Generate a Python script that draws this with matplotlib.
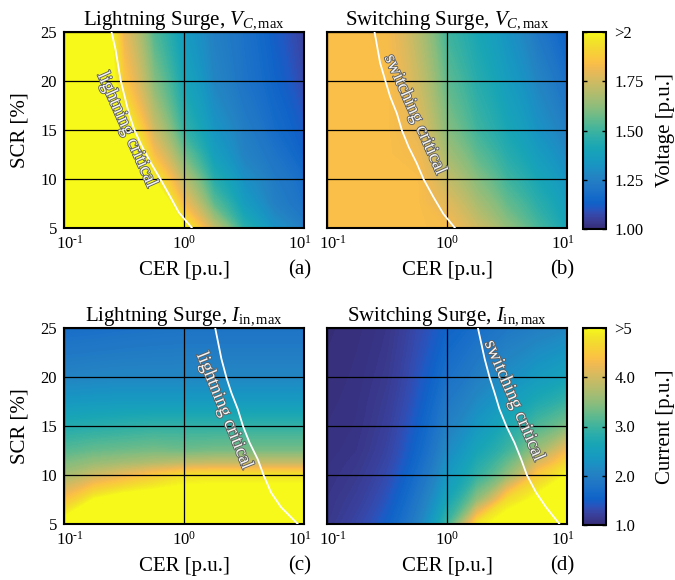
import numpy as np
import matplotlib
matplotlib.use("Agg")
import matplotlib.pyplot as plt
from matplotlib.colors import LinearSegmentedColormap, Normalize
from matplotlib.cm import ScalarMappable
from matplotlib.ticker import FixedLocator, FixedFormatter, NullLocator
import matplotlib.transforms as mtransforms
import matplotlib.patheffects as pe

plt.rcParams['font.family'] = ['Liberation Serif', 'DejaVu Serif']
plt.rcParams['mathtext.fontset'] = 'custom'
plt.rcParams['mathtext.rm'] = 'Liberation Serif'
plt.rcParams['mathtext.it'] = 'Liberation Serif:italic'
plt.rcParams['mathtext.bf'] = 'Liberation Serif:bold'

# ---------------- parula colormap (slightly muted, as printed) ----------------
parula_list = [
    [0.2081, 0.1663, 0.5292], [0.2116, 0.1898, 0.5777], [0.2123, 0.2138, 0.6270], [0.2081, 0.2386, 0.6771],
    [0.1959, 0.2645, 0.7279], [0.1707, 0.2919, 0.7792], [0.1253, 0.3242, 0.8303], [0.0591, 0.3598, 0.8683],
    [0.0117, 0.3875, 0.8820], [0.0060, 0.4086, 0.8828], [0.0165, 0.4266, 0.8786], [0.0329, 0.4430, 0.8720],
    [0.0498, 0.4586, 0.8641], [0.0629, 0.4737, 0.8554], [0.0723, 0.4887, 0.8467], [0.0779, 0.5040, 0.8384],
    [0.0793, 0.5200, 0.8312], [0.0749, 0.5375, 0.8263], [0.0641, 0.5570, 0.8240], [0.0488, 0.5772, 0.8228],
    [0.0343, 0.5966, 0.8199], [0.0265, 0.6137, 0.8135], [0.0239, 0.6287, 0.8038], [0.0231, 0.6418, 0.7913],
    [0.0228, 0.6535, 0.7768], [0.0267, 0.6642, 0.7607], [0.0384, 0.6743, 0.7436], [0.0590, 0.6838, 0.7254],
    [0.0843, 0.6928, 0.7062], [0.1133, 0.7015, 0.6859], [0.1453, 0.7098, 0.6646], [0.1801, 0.7177, 0.6424],
    [0.2178, 0.7250, 0.6193], [0.2586, 0.7317, 0.5954], [0.3022, 0.7376, 0.5712], [0.3482, 0.7424, 0.5473],
    [0.3953, 0.7459, 0.5244], [0.4420, 0.7481, 0.5033], [0.4871, 0.7491, 0.4840], [0.5300, 0.7491, 0.4661],
    [0.5709, 0.7485, 0.4494], [0.6099, 0.7473, 0.4337], [0.6473, 0.7456, 0.4188], [0.6834, 0.7435, 0.4044],
    [0.7184, 0.7411, 0.3905], [0.7525, 0.7384, 0.3768], [0.7858, 0.7356, 0.3633], [0.8185, 0.7327, 0.3498],
    [0.8507, 0.7299, 0.3360], [0.8824, 0.7274, 0.3217], [0.9139, 0.7258, 0.3063], [0.9450, 0.7261, 0.2886],
    [0.9739, 0.7314, 0.2666], [0.9938, 0.7455, 0.2403], [0.9990, 0.7653, 0.2164], [0.9955, 0.7861, 0.1967],
    [0.9880, 0.8066, 0.1794], [0.9789, 0.8271, 0.1633], [0.9697, 0.8481, 0.1475], [0.9626, 0.8705, 0.1309],
    [0.9589, 0.8949, 0.1132], [0.9598, 0.9218, 0.0948], [0.9661, 0.9514, 0.0755], [0.9763, 0.9831, 0.0538]]
_pc = np.array(parula_list)
_lum = (_pc @ np.array([0.299, 0.587, 0.114]))[:, None]
_mix = np.linspace(0.2, 0.06, len(_pc))[:, None]
_pc = _pc * (1 - _mix) + _lum * _mix
parula = LinearSegmentedColormap.from_list("parula_print", _pc, N=256)

# ---------------- data ----------------
cer_exp = [-1.0, -0.75, -0.5, -0.25, 0.0, 0.25, 0.5, 0.75, 1.0]   # log10(CER)
scr_v = [5, 7.5, 10, 12.5, 15, 20, 25]
scr_i = [5, 7.5, 10, 11.25, 12.5, 15, 17.5, 20, 25]

# (a) lightning surge, V_C,max  [p.u.]  rows = scr_v
vc_lightning = [
    [2.20, 2.20, 2.20, 2.20, 2.00, 1.72, 1.46, 1.32, 1.24],
    [2.20, 2.20, 2.20, 2.15, 1.82, 1.55, 1.36, 1.25, 1.19],
    [2.20, 2.20, 2.20, 1.98, 1.70, 1.45, 1.31, 1.23, 1.17],
    [2.20, 2.20, 2.15, 1.84, 1.58, 1.37, 1.26, 1.20, 1.13],
    [2.20, 2.20, 2.05, 1.74, 1.48, 1.33, 1.24, 1.17, 1.11],
    [2.20, 2.20, 1.87, 1.61, 1.40, 1.27, 1.20, 1.14, 1.07],
    [2.20, 2.20, 1.80, 1.53, 1.35, 1.25, 1.19, 1.12, 1.05]]

# (b) switching surge, V_C,max  [p.u.]
vc_switching = [
    [1.84, 1.84, 1.84, 1.84, 1.83, 1.74, 1.63, 1.52, 1.40],
    [1.84, 1.84, 1.84, 1.84, 1.78, 1.67, 1.56, 1.46, 1.36],
    [1.84, 1.84, 1.84, 1.84, 1.72, 1.61, 1.50, 1.41, 1.32],
    [1.84, 1.84, 1.84, 1.82, 1.66, 1.55, 1.45, 1.36, 1.28],
    [1.84, 1.84, 1.84, 1.79, 1.61, 1.50, 1.41, 1.32, 1.24],
    [1.84, 1.84, 1.84, 1.74, 1.55, 1.45, 1.36, 1.27, 1.18],
    [1.84, 1.84, 1.83, 1.70, 1.50, 1.41, 1.32, 1.22, 1.12]]

# (c) lightning surge, I_in,max  [p.u.]  rows = scr_i
iin_lightning = [
    [5.20, 5.30, 5.30, 5.30, 5.30, 5.30, 5.30, 5.30, 5.30],
    [4.40, 5.00, 5.25, 5.30, 5.30, 5.30, 5.30, 5.30, 5.30],
    [3.65, 3.95, 4.20, 4.50, 4.75, 4.80, 4.80, 4.80, 4.80],
    [3.40, 3.55, 3.65, 3.75, 3.85, 3.90, 3.90, 3.90, 3.90],
    [3.15, 3.25, 3.30, 3.35, 3.30, 3.35, 3.35, 3.35, 3.35],
    [2.75, 2.80, 2.85, 2.90, 2.90, 2.90, 2.90, 2.90, 2.90],
    [2.35, 2.38, 2.40, 2.40, 2.40, 2.40, 2.40, 2.40, 2.40],
    [2.05, 2.08, 2.10, 2.10, 2.10, 2.10, 2.10, 2.10, 2.10],
    [1.70, 1.72, 1.75, 1.78, 1.80, 1.80, 1.80, 1.80, 1.80]]

# (d) switching surge, I_in,max  [p.u.]
iin_switching = [
    [1.12, 1.26, 1.52, 2.00, 3.00, 4.80, 5.30, 5.30, 5.30],
    [1.10, 1.19, 1.40, 1.85, 2.60, 3.50, 4.70, 5.10, 5.30],
    [1.08, 1.14, 1.31, 1.70, 2.35, 2.90, 3.50, 4.50, 5.00],
    [1.07, 1.12, 1.27, 1.63, 2.25, 2.75, 3.25, 4.05, 4.70],
    [1.06, 1.10, 1.24, 1.58, 2.15, 2.60, 3.00, 3.60, 4.30],
    [1.05, 1.08, 1.20, 1.50, 2.00, 2.35, 2.70, 3.10, 3.40],
    [1.04, 1.07, 1.17, 1.43, 1.88, 2.15, 2.45, 2.70, 2.95],
    [1.03, 1.06, 1.14, 1.38, 1.75, 1.98, 2.20, 2.40, 2.55],
    [1.02, 1.04, 1.10, 1.30, 1.55, 1.72, 1.88, 1.98, 2.08]]

# critical curves (CER, SCR)
crit_a_cer = [0.249, 0.269, 0.296, 0.347, 0.386, 0.448, 0.532, 0.635, 0.771, 0.904, 1.166]
crit_a_scr = [25.0, 23.2, 20.1, 16.7, 15.0, 13.3, 11.6, 10.0, 8.15, 6.6, 5.0]
crit_b_cer = [0.249, 0.277, 0.305, 0.336, 0.382, 0.420, 0.478, 0.560, 0.637, 0.771, 0.933, 1.166]
crit_b_scr = [25.0, 21.85, 20.1, 18.4, 16.7, 15.0, 13.3, 11.6, 10.0, 8.15, 6.44, 5.0]
crit_c_cer = [1.82, 2.05, 2.25, 2.48, 2.81, 3.10, 3.52, 4.12, 4.60, 5.32, 6.45, 8.87]
crit_c_scr = [25.0, 21.85, 20.0, 18.4, 16.7, 15.0, 13.3, 11.6, 10.0, 8.2, 6.7, 5.0]
crit_d_cer = [1.81, 2.06, 2.26, 2.49, 2.74, 3.12, 3.65, 4.15, 4.63, 5.53, 6.70, 8.65]
crit_d_scr = [25.0, 21.85, 20.0, 18.4, 16.7, 15.0, 13.3, 11.6, 10.0, 8.2, 6.7, 5.0]

x_ticks = [0.1, 1.0, 10.0]
x_ticklabels = ["$10^{\u20101}$", "$10^{0}$", "$10^{1}$"]
y_ticks = [5, 10, 15, 20, 25]
v_ticks = [1.0, 1.25, 1.5, 1.75, 2.0]
v_ticklabels = ["1.00", "1.25", "1.50", "1.75", ">2"]
i_ticks = [1.0, 2.0, 3.0, 4.0, 5.0]
i_ticklabels = ["1.0", "2.0", "3.0", "4.0", ">5"]

# ---------------- figure ----------------
W, H = 675, 580
fig = plt.figure(figsize=(W / 100, H / 100), dpi=100)

def frac(l, t, w, h):
    return [l / W, 1 - (t + h) / H, w / W, h / H]

ax_a = fig.add_axes(frac(64, 32, 240, 196))
ax_b = fig.add_axes(frac(327, 32, 240, 196))
cax_v = fig.add_axes(frac(583, 32, 23, 197))
ax_c = fig.add_axes(frac(64, 328, 240, 196))
ax_d = fig.add_axes(frac(327, 328, 240, 196))
cax_i = fig.add_axes(frac(583, 328, 23, 197))

cer = 10.0 ** np.array(cer_exp)

panels = [
    (ax_a, scr_v, vc_lightning, 1.0, 2.0, r"Lightning Surge, $V_{C,\mathrm{max}}$", "(a)",
     crit_a_cer, crit_a_scr, "lightning critical", (0.262, 0.50), -66),
    (ax_b, scr_v, vc_switching, 1.0, 2.0, r"Switching Surge, $V_{C,\mathrm{max}}$", "(b)",
     crit_b_cer, crit_b_scr, "switching critical", (0.366, 0.578), -66),
    (ax_c, scr_i, iin_lightning, 1.0, 5.0, r"Lightning Surge, $I_{\mathrm{in,max}}$", "(c)",
     crit_c_cer, crit_c_scr, "lightning critical", (0.667, 0.577), -68),
    (ax_d, scr_i, iin_switching, 1.0, 5.0, r"Switching Surge, $I_{\mathrm{in,max}}$", "(d)",
     crit_d_cer, crit_d_scr, "switching critical", (0.779, 0.628), -67),
]

for i, (ax, scr, Z, vmin, vmax, title, lab, ccx, ccy, ctext, tpos, rot) in enumerate(panels):
    X, Y = np.meshgrid(cer, np.array(scr))
    levels = np.linspace(vmin, vmax, 161)
    ax.contourf(X, Y, np.array(Z), levels=levels, cmap=parula, extend='both',
                antialiased=False, zorder=0)
    ax.set_xscale('log')
    ax.set_xlim(0.1, 10)
    ax.set_ylim(5, 25)
    ax.xaxis.set_major_locator(FixedLocator(x_ticks))
    ax.xaxis.set_major_formatter(FixedFormatter(x_ticklabels))
    ax.xaxis.set_minor_locator(NullLocator())
    ax.set_yticks(y_ticks)
    ax.grid(True, color='black', lw=0.9)
    ax.set_axisbelow(False)
    ax.tick_params(length=0, labelsize=12, pad=5)
    for sp in ax.spines.values():
        sp.set_linewidth(1.5)
    ax.plot(ccx, ccy, color='white', lw=1.3, zorder=3)
    t = ax.text(tpos[0], tpos[1], ctext, transform=ax.transAxes, rotation=rot,
                rotation_mode='anchor', ha='center', va='center', fontsize=13.5,
                color='#f4f4f4', zorder=4)
    t.set_path_effects([pe.Stroke(linewidth=1.3, foreground='#606060'), pe.Normal()])
    ax.set_title(title, fontsize=15, pad=5)
    ax.set_xlabel("CER [p.u.]", fontsize=15, va='center')
    ax.xaxis.set_label_coords(0.5, -0.215)
    ax.text(1.03, -0.215, lab, transform=ax.transAxes, ha='right', va='center', fontsize=15)
    if i in (0, 2):
        ax.set_ylabel("SCR [%]", fontsize=15, va='center')
        ax.yaxis.set_label_coords(-0.185, 0.5)
    else:
        ax.tick_params(labelleft=False)
    # nudge the end tick labels inwards, as in the original
    labels = ax.get_xticklabels()
    for lbl, dx in zip(labels, [6, 0, -4]):
        lbl.set_transform(lbl.get_transform() +
                          mtransforms.ScaledTranslation(dx / 100, 0, fig.dpi_scale_trans))

for cax, vmin, vmax, ticks, tl, label in [
        (cax_v, 1.0, 2.0, v_ticks, v_ticklabels, "Voltage [p.u.]"),
        (cax_i, 1.0, 5.0, i_ticks, i_ticklabels, "Current [p.u.]")]:
    sm = ScalarMappable(norm=Normalize(vmin, vmax), cmap=parula)
    cb = fig.colorbar(sm, cax=cax)
    cb.set_ticks(ticks)
    cb.set_ticklabels(tl)
    cb.outline.set_linewidth(1.5)
    cax.tick_params(direction='in', length=3, width=1, left=True, right=True,
                    labelsize=12, pad=6)
    cb.set_label(label, fontsize=15, va='center')
    cax.yaxis.set_label_coords(3.6, 0.5)

fig.savefig("out.png", dpi=100)
